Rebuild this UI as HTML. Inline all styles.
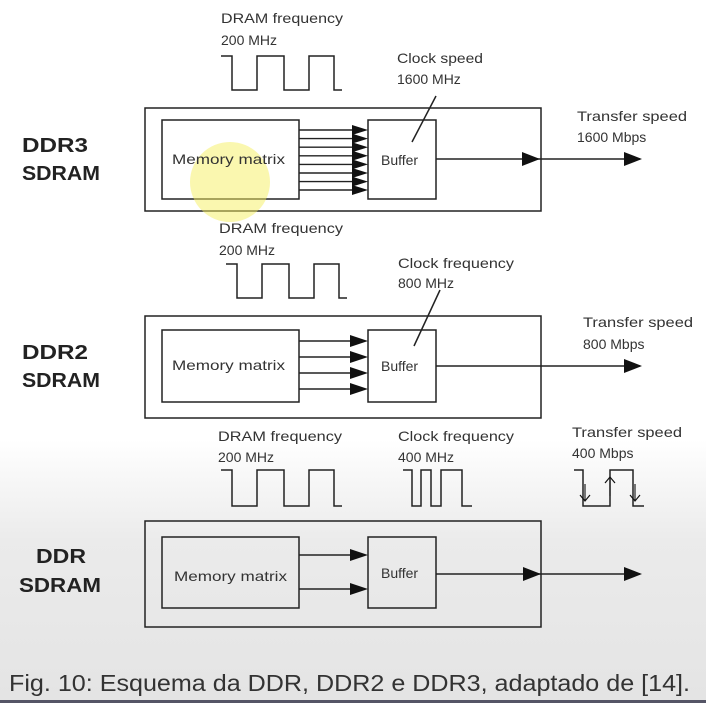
<!DOCTYPE html>
<html><head><meta charset="utf-8"><style>
html,body{margin:0;padding:0;}
body{width:706px;height:703px;overflow:hidden;background:linear-gradient(#fff 0,#fff 440px,#ebebeb 540px,#e4e4e4 703px);}
svg{position:absolute;left:0;top:0;}
text{font-family:"Liberation Sans",sans-serif;}
.s{font-size:14px;fill:#333;}
.b{font-size:20px;font-weight:bold;fill:#222;}
</style></head><body>
<svg width="706" height="703" viewBox="0 0 706 703">
<g stroke="#222" stroke-width="1.5" fill="none">
<rect x="145" y="108" width="396" height="103"/>
<rect x="162" y="120" width="137" height="79"/>
<rect x="368" y="120" width="68" height="79"/>
<path d="M221,56H232V90H257V56H284V90H309V56H334V90H342"/>
<path d="M412,142L436,96"/>
<path d="M436,159H640"/>
</g>
<g fill="#111">
<polygon points="522,152 540,159 522,166"/>
<polygon points="624,152 642,159 624,166"/>
</g>
<g stroke="#222" stroke-width="1.4">
<line x1="299" y1="130" x2="352" y2="130"/><line x1="299" y1="138.6" x2="352" y2="138.6"/>
<line x1="299" y1="147.2" x2="352" y2="147.2"/><line x1="299" y1="155.8" x2="352" y2="155.8"/>
<line x1="299" y1="164.4" x2="352" y2="164.4"/><line x1="299" y1="173" x2="352" y2="173"/>
<line x1="299" y1="181.6" x2="352" y2="181.6"/><line x1="299" y1="190" x2="352" y2="190"/>
</g>
<g fill="#111">
<polygon points="352,125 368,130 352,135"/><polygon points="352,133.6 368,138.6 352,143.6"/>
<polygon points="352,142.2 368,147.2 352,152.2"/><polygon points="352,150.8 368,155.8 352,160.8"/>
<polygon points="352,159.4 368,164.4 352,169.4"/><polygon points="352,168 368,173 352,178"/>
<polygon points="352,176.6 368,181.6 352,186.6"/><polygon points="352,185 368,190 352,195"/>
</g>
<circle cx="230" cy="182" r="40" fill="#f5ef60" opacity="0.5"/>
<!-- DDR2 -->
<g stroke="#222" stroke-width="1.5" fill="none">
<rect x="145" y="316" width="396" height="102"/>
<rect x="162" y="330" width="137" height="72"/>
<rect x="368" y="330" width="68" height="72"/>
<path d="M226,264H237V298H262V264H289V298H314V264H339V298H347"/>
<path d="M414,346L440,290"/>
<path d="M436,366H640"/>
<path d="M299,341H352M299,357H352M299,373H352M299,389H352"/>
</g>
<g fill="#111">
<polygon points="624,359 642,366 624,373"/>
<polygon points="350,335 368,341 350,347"/><polygon points="350,351 368,357 350,363"/>
<polygon points="350,367 368,373 350,379"/><polygon points="350,383 368,389 350,395"/>
</g>
<!-- DDR -->
<g stroke="#222" stroke-width="1.5" fill="none">
<rect x="145" y="521" width="396" height="106"/>
<rect x="162" y="537" width="137" height="71"/>
<rect x="368" y="537" width="68" height="71"/>
<path d="M221,470H232V506H257V470H284V506H309V470H334V506H342"/>
<path d="M403,470H412V506H421V470H431V506H441V470H462V506H472"/>
<path d="M574,470H583V506H610V470H633V506H644"/>
<path d="M436,574H640"/>
<path d="M299,555H352M299,589H352"/>
<path d="M585,484V500M610,478V496M635,484V500" stroke-width="1.2"/>
</g>
<g fill="#111">
<polygon points="624,567 642,574 624,581"/>
<polygon points="523,567 541,574 523,581"/>
<polygon points="350,549 368,555 350,561"/><polygon points="350,583 368,589 350,595"/>
</g>
<g stroke="#111" stroke-width="1.2" fill="none">
<path d="M580,495L585,501L590,495M605,483L610,477L615,483M630,495L635,501L640,495"/>
</g>
<text class="s" x="221" y="23" textLength="122" lengthAdjust="spacingAndGlyphs">DRAM frequency</text><text class="s" x="221" y="45">200 MHz</text>
<text class="s" x="397" y="63" textLength="86" lengthAdjust="spacingAndGlyphs">Clock speed</text><text class="s" x="397" y="84">1600 MHz</text>
<text class="s" x="577" y="121" textLength="110" lengthAdjust="spacingAndGlyphs">Transfer speed</text><text class="s" x="577" y="142">1600 Mbps</text>
<text class="s" x="172" y="164" textLength="113" lengthAdjust="spacingAndGlyphs">Memory matrix</text><text class="s" x="381" y="165">Buffer</text>
<text class="b" x="22" y="152" textLength="66" lengthAdjust="spacingAndGlyphs">DDR3</text><text class="b" x="22" y="180" textLength="78" lengthAdjust="spacingAndGlyphs">SDRAM</text>

<text class="s" x="219" y="233" textLength="124" lengthAdjust="spacingAndGlyphs">DRAM frequency</text><text class="s" x="219" y="255">200 MHz</text>
<text class="s" x="398" y="268" textLength="116" lengthAdjust="spacingAndGlyphs">Clock frequency</text><text class="s" x="398" y="288">800 MHz</text>
<text class="s" x="583" y="327" textLength="110" lengthAdjust="spacingAndGlyphs">Transfer speed</text><text class="s" x="583" y="349">800 Mbps</text>
<text class="s" x="172" y="370" textLength="113" lengthAdjust="spacingAndGlyphs">Memory matrix</text><text class="s" x="381" y="371">Buffer</text>
<text class="b" x="22" y="359" textLength="66" lengthAdjust="spacingAndGlyphs">DDR2</text><text class="b" x="22" y="387" textLength="78" lengthAdjust="spacingAndGlyphs">SDRAM</text>

<text class="s" x="218" y="441" textLength="124" lengthAdjust="spacingAndGlyphs">DRAM frequency</text><text class="s" x="218" y="462">200 MHz</text>
<text class="s" x="398" y="441" textLength="116" lengthAdjust="spacingAndGlyphs">Clock frequency</text><text class="s" x="398" y="462">400 MHz</text>
<text class="s" x="572" y="437" textLength="110" lengthAdjust="spacingAndGlyphs">Transfer speed</text><text class="s" x="572" y="458">400 Mbps</text>
<text class="s" x="174" y="581" textLength="113" lengthAdjust="spacingAndGlyphs">Memory matrix</text><text class="s" x="381" y="578">Buffer</text>
<text class="b" x="36" y="563" textLength="50" lengthAdjust="spacingAndGlyphs">DDR</text><text class="b" x="19" y="592" textLength="82" lengthAdjust="spacingAndGlyphs">SDRAM</text>

<text x="9" y="691" textLength="681" lengthAdjust="spacingAndGlyphs" style="font-size:23px;fill:#333;">Fig. 10: Esquema da DDR, DDR2 e DDR3, adaptado de [14].</text>
<rect x="0" y="700" width="706" height="3" fill="#556"/>
</svg>
</body></html>
